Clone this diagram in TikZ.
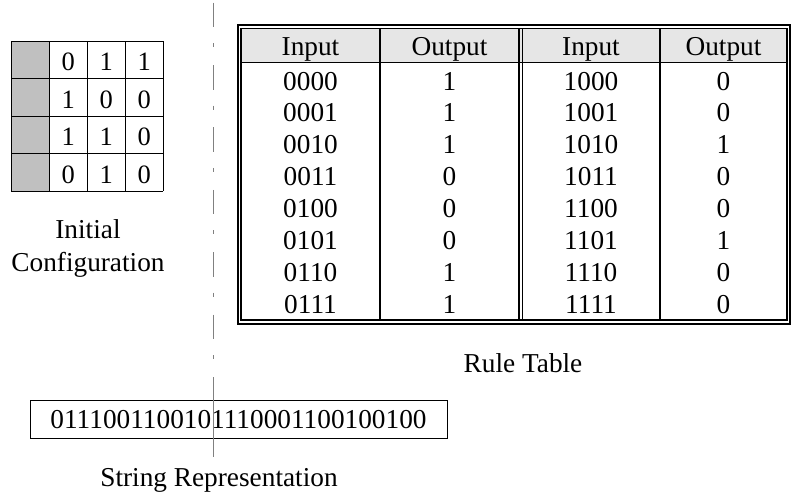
\documentclass[tikz,border=0pt]{standalone}
\usepackage{fontspec}
\setmainfont{Liberation Serif}
\definecolor{cellgrey}{RGB}{192,192,192}
\definecolor{headgrey}{RGB}{230,230,230}
\definecolor{sepgrey}{RGB}{128,128,128}
\begin{document}
\begin{tikzpicture}[x=1pt,y=-1pt,
  lbl/.style={font=\fontsize{27.3}{31}\selectfont, inner sep=0pt, anchor=base},
  cellnum/.style={font=\fontsize{26.5}{30}\selectfont, inner sep=0pt, anchor=base},
  gridline/.style={black, line width=1pt},
  outerframe/.style={black, line width=2pt},
  innerframe/.style={black, line width=1.5pt},
  coldiv/.style={black, line width=1.6pt},
  sepline/.style={sepgrey, line width=1.5pt}]
\useasboundingbox (0,0) rectangle (791,496);

% ---- initial configuration grid ----
\fill[cellgrey] (11,41) rectangle (49.3,191);
\foreach \x in {11,49.3,87.3,125.3,163.3} \draw[gridline] (\x,41) -- (\x,191);
\foreach \y in {41,78.5,116,153.5,191} \draw[gridline] (11,\y) -- (163.3,\y);
\foreach \vals [count=\i from 0] in {{0,1,1},{1,0,0},{1,1,0},{0,1,0}} {
  \foreach \v [count=\j from 0] in \vals {
    \node[cellnum] (g\i\j) at ({68.3+38*\j},{70.5+37.6*\i}) {\v};
  }
}
\node[lbl] (init1) at (88,238) {Initial};
\node[lbl] (init2) at (88,271) {Configuration};

% ---- rule table ----
\fill[headgrey] (241,28.5) rectangle (787,62);
\draw[outerframe] (237.5,25) rectangle (790,323.5);
\draw[innerframe] (241,28.5) rectangle (787,320);
\draw[gridline] (241,62) -- (787,62);
\draw[coldiv] (380,28.5) -- (380,320);
\draw[coldiv] (660,28.5) -- (660,320);
\draw[innerframe] (519,28.5) -- (519,320);
\draw[innerframe] (522.7,28.5) -- (522.7,320);
\node[lbl] (h1) at (310.5,55) {Input};
\node[lbl] (h2) at (449.5,55) {Output};
\node[lbl] (h3) at (591,55) {Input};
\node[lbl] (h4) at (723.5,55) {Output};
\foreach \ia/\oa/\ib/\ob [count=\k from 0] in
  {0000/1/1000/0, 0001/1/1001/0, 0010/1/1010/1, 0011/0/1011/0,
   0100/0/1100/0, 0101/0/1101/1, 0110/1/1110/0, 0111/1/1111/0} {
  \node[lbl] (ia\k) at (310.5,{90+31.9*\k}) {\ia};
  \node[lbl] (oa\k) at (449.5,{90+31.9*\k}) {\oa};
  \node[lbl] (ib\k) at (591,{90+31.9*\k}) {\ib};
  \node[lbl] (ob\k) at (723.5,{90+31.9*\k}) {\ob};
}
\node[lbl] (rule) at (523,372) {Rule Table};

% ---- string representation ----
\node[draw, line width=1pt, minimum width=417pt, minimum height=37.5pt,
      text height=18.5pt, text depth=0pt, inner sep=0pt,
      font=\fontsize{27.3}{31}\selectfont] (str) at (238.5,419.5)
      {0111001100101110001100100100};
\node[lbl] (strlbl) at (219,486) {String Representation};

% ---- separator ----
\coordinate (septop) at (213.5,2.6);
\coordinate (sepmid) at (213.5,377);
\coordinate (sepbot) at (213.5,457);
\draw[sepline, dash pattern=on 24.5pt off 16pt on 4pt off 17.9pt] (septop) -- (sepmid);
\draw[sepline] (sepmid) -- (sepbot);
\end{tikzpicture}
\end{document}
